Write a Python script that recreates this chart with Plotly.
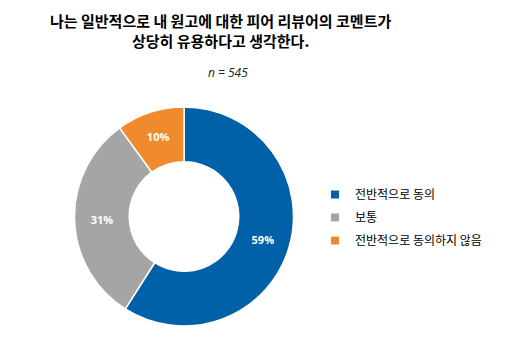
import plotly.graph_objects as go

labels = ["전반적으로 동의", "보통", "전반적으로 동의하지 않음"]
values = [59, 31, 10]
colors = ["#0060A8", "#A5A5A5", "#F08A2C"]

W, H = 521, 355
OFF = 8  # browser body margin offset

def px(x):
    return (x - OFF) / W

def py(y):
    return 1 - (y - OFF) / H

fig = go.Figure()
fig.add_trace(go.Pie(
    labels=labels,
    values=values,
    hole=0.5,
    sort=False,
    direction="clockwise",
    rotation=0,
    marker=dict(colors=colors, line=dict(color="white", width=1.5)),
    textinfo="percent",
    texttemplate="%{percent:.0%}",
    textposition="inside",
    insidetextorientation="horizontal",
    textfont=dict(color="white", size=11, family="Open Sans, Noto Sans CJK KR", weight="bold"),
    domain=dict(x=[px(74), px(294)], y=[py(326), py(107)]),
    showlegend=False,
))

for lab, col in zip(labels, colors):
    fig.add_trace(go.Scatter(
        x=[None], y=[None], mode="markers", name=lab, legendgroup=lab,
        marker=dict(symbol="square", size=8, color=col),
        showlegend=True, hoverinfo="skip",
    ))

fig.update_layout(
    width=W, height=H,
    margin=dict(l=0, r=0, t=0, b=0),
    paper_bgcolor="white",
    plot_bgcolor="white",
    font=dict(family="Noto Sans CJK KR", color="black"),
    xaxis=dict(visible=False),
    yaxis=dict(visible=False),
    legend=dict(
        x=px(315), y=py(180), xanchor="left", yanchor="top",
        font=dict(size=12, family="Noto Sans CJK KR", color="black"),
        tracegroupgap=4,
        bgcolor="rgba(0,0,0,0)",
    ),
    annotations=[
        dict(text="<b>나는 일반적으로 내 원고에 대한 피어 리뷰어의 코멘트가<br>상당히 유용하다고 생각한다.</b>",
             x=px(220), y=py(8), xref="paper", yref="paper",
             xanchor="center", yanchor="top", showarrow=False,
             font=dict(size=15, family="Noto Sans CJK KR", color="black")),
        dict(text="<i>n = 545</i>", x=px(228), y=py(73), xref="paper", yref="paper",
             xanchor="center", yanchor="middle", showarrow=False,
             font=dict(size=12, family="Open Sans", color="#222222")),
    ],
)

fig.write_html("out.html")
